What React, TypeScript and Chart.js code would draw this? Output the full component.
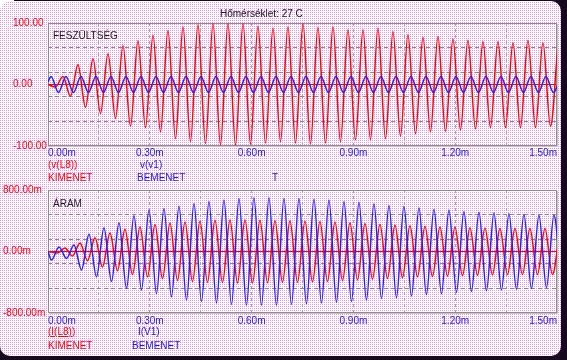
import React, { useEffect, useRef } from "react";
import { Chart, registerables } from "chart.js";

Chart.register(...registerables);

const FONT = '"Liberation Sans", Arial, sans-serif';
const RED = "#ff0000";
const BLUE = "#2020ff";
const RED_TEXT = "#ff0000";
const BLUE_TEXT = "#1818e0";

// x axis (ms)
const X_GRID = [0, 0.15, 0.3, 0.45, 0.6, 0.75, 0.9, 1.05, 1.2, 1.35, 1.5];
const X_LABELS = [0, 0.3, 0.6, 0.9, 1.2, 1.5];

// y axes
const V_GRID = [-100, -60, -20, 0, 20, 60, 100];
const V_LABELS = [-100, 0, 100];
const I_GRID = [-800, -480, -160, 0, 160, 480, 800];
const I_LABELS = [-800, 0, 800];

// half period of the waveforms (ms)
const HALF_PERIOD = 0.0221;

// v(L8) – KIMENET (top, red): value at t=0, time of first extremum, successive extrema
const V_L8_START = 0;
const V_L8_FIRST_T = 0.0221;
const V_L8 = [
  -4, 13, -19, 32, -37, 42, -47, 50, -55, 63, -68, 71, -70, 80, -77, 88, -88, 94,
  -93, 97, -96, 99, -98, 99, -98, 99, -97, 95, -95, 92, -93, 94, -95, 99, -97, 93,
  -95, 94, -93, 89, -90, 89, -90, 92, -88, 86, -84, 81, -80, 77, -77, 78, -76, 74,
  -74, 72, -72, 70, -70, 70, -70, 68, -70, 72, -70, 68, -68, 66,
];

// v(v1) – BEMENET (top, blue)
const V_V1_START = 4;
const V_V1_FIRST_T = 0.0088;
const V_V1 = [
  13, -13, 13, -13, 13, -13, 13, -13, 13, -13, 13, -13, 13, -13, 13, -13, 13, -13,
  13, -13, 13, -13, 13, -13, 13, -13, 13, -13, 13, -13, 13, -13, 13, -13, 13, -13,
  13, -13, 13, -13, 13, -13, 13, -13, 13, -13, 13, -13, 13, -13, 13, -13, 13, -13,
  13, -13, 13, -13, 13, -13, 13, -13, 13, -13, 13, -13, 13, -13, 13,
];

// I(L8) – KIMENET (bottom, red), mA
const I_L8_START = 0;
const I_L8_FIRST_T = 0.028;
const I_L8 = [
  -20, 45, -60, 110, -120, 180, -200, 240, -250, 290, -300, 320, -330, 350, -355, 370,
  -375, 385, -390, 395, -400, 405, -405, 410, -410, 410, -410, 405, -405, 400, -400, 400,
  -400, 395, -395, 390, -390, 385, -380, 375, -370, 365, -360, 355, -350, 345, -340, 335,
  -330, 330, -325, 320, -320, 315, -315, 310, -310, 305, -305, 300, -300, 300, -300, 300,
  -300, 300, -300, 300,
];

// I(V1) – BEMENET (bottom, blue), mA
const I_V1_START = 0;
const I_V1_FIRST_T = 0.0103;
const I_V1 = [
  -110, 60, -90, 85, -240, 225, -330, 310, -390, 375, -480, 465, -500, 540, -545, 560,
  -590, 590, -630, 625, -650, 650, -670, 670, -690, 690, -700, 700, -700, 700, -700, 690,
  -690, 690, -680, 680, -670, 670, -660, 650, -650, 640, -630, 620, -610, 600, -600, 590,
  -580, 570, -560, 550, -550, 540, -530, 520, -520, 510, -510, 500, -500, 490, -490, 480,
  -480, 470, -470, 470, -470,
];

function buildSeries(start: number, firstT: number, values: number[]) {
  const pts = [{ x: 0, y: start }];
  values.forEach((v, i) => pts.push({ x: firstT + i * HALF_PERIOD, y: v }));
  return pts;
}

const near = (a: number, b: number) => Math.abs(a - b) < 1e-6;

const framePlugin = {
  id: "frame",
  beforeDatasetsDraw(chart: any) {
    const { left, top, right, bottom } = chart.chartArea;
    const ctx = chart.ctx;
    ctx.save();
    ctx.lineWidth = 1;
    ctx.strokeStyle = "#8c8c8c";
    ctx.strokeRect(Math.round(left) + 0.5, Math.round(top) + 0.5, Math.round(right - left) - 1, Math.round(bottom - top) - 1);
    ctx.strokeStyle = "#c8c8c8";
    ctx.beginPath();
    ctx.moveTo(Math.round(right) + 0.5, Math.round(top) + 1);
    ctx.lineTo(Math.round(right) + 0.5, Math.round(bottom) + 0.5);
    ctx.lineTo(Math.round(left) + 1, Math.round(bottom) + 0.5);
    ctx.stroke();
    ctx.restore();
  },
};

type PanelCfg = {
  min: number;
  max: number;
  grid: number[];
  labels: number[];
  fmt: (v: number) => string;
  padLeft: number;
  padTop: number;
  yWidth: number;
  xHeight: number;
  xPad: number;
};

function makeChart(canvas: HTMLCanvasElement, cfg: PanelCfg, datasets: any[]) {
  return new Chart(canvas, {
    type: "line",
    data: { datasets },
    plugins: [framePlugin],
    options: {
      animation: false,
      responsive: false,
      events: [],
      layout: { padding: { left: cfg.padLeft, right: 10, top: cfg.padTop, bottom: 0 } },
      plugins: { legend: { display: false }, tooltip: { enabled: false }, title: { display: false } },
      elements: { point: { radius: 0 }, line: { borderWidth: 1.5, cubicInterpolationMode: "monotone" } },
      scales: {
        x: {
          type: "linear",
          min: 0,
          max: 1.5,
          afterBuildTicks: (s: any) => {
            s.ticks = X_GRID.map((v) => ({ value: v }));
          },
          afterFit: (s: any) => {
            s.height = cfg.xHeight;
          },
          ticks: {
            autoSkip: false,
            maxRotation: 0,
            minRotation: 0,
            align: "inner",
            padding: cfg.xPad,
            color: BLUE_TEXT,
            font: { family: FONT, size: 10 },
            callback: (v: any) => (X_LABELS.some((l) => near(l, Number(v))) ? Number(v).toFixed(2) + "m" : ""),
          },
          grid: {
            drawTicks: false,
            lineWidth: 1,
            color: (ctx: any) => {
              const v = ctx.tick ? ctx.tick.value : 0;
              return near(v, 0) || near(v, 1.5) ? "rgba(0,0,0,0)" : "#9ea89e";
            },
          },
          border: { display: false, dash: [3, 3] },
        },
        y: {
          type: "linear",
          min: cfg.min,
          max: cfg.max,
          afterBuildTicks: (s: any) => {
            s.ticks = cfg.grid.map((v) => ({ value: v }));
          },
          afterFit: (s: any) => {
            s.width = cfg.yWidth;
          },
          ticks: {
            autoSkip: false,
            crossAlign: "far",
            padding: 0,
            color: RED_TEXT,
            font: { family: FONT, size: 10 },
            callback: (v: any) => (cfg.labels.some((l) => near(l, Number(v))) ? cfg.fmt(Number(v)) : ""),
          },
          grid: {
            drawTicks: false,
            lineWidth: 1,
            color: (ctx: any) => {
              const v = ctx.tick ? ctx.tick.value : 0;
              if (near(v, 0)) return RED;
              if (near(v, cfg.min) || near(v, cfg.max)) return "rgba(0,0,0,0)";
              return "#888888";
            },
          },
          border: {
            display: false,
            dash: (ctx: any) => (ctx.tick && near(ctx.tick.value, 0) ? [] : [4, 3]),
          },
        },
      },
    } as any,
  });
}

const text = (
  s: string,
  left: number,
  top: number,
  color: string,
  extra: React.CSSProperties = {}
) => (
  <div
    key={s + left + top}
    style={{
      position: "absolute",
      left,
      top,
      color,
      font: `10px ${FONT}`,
      lineHeight: "12px",
      whiteSpace: "nowrap",
      ...extra,
    }}
  >
    {s}
  </div>
);

export default function App() {
  const bgRef = useRef<HTMLCanvasElement | null>(null);
  const topRef = useRef<HTMLCanvasElement | null>(null);
  const botRef = useRef<HTMLCanvasElement | null>(null);

  useEffect(() => {
    const bg = bgRef.current!;
    const ctx = bg.getContext("2d")!;
    ctx.fillStyle = "#150a1e";
    ctx.fillRect(0, 0, 567, 360);
    ctx.fillStyle = "#ffffff";
    ctx.fillRect(0, 0, 14, 14);
    const p = document.createElement("canvas");
    p.width = 2;
    p.height = 2;
    const pc = p.getContext("2d")!;
    pc.fillStyle = "#ffffff";
    pc.fillRect(0, 0, 2, 2);
    pc.fillStyle = "#f190f1";
    pc.fillRect(0, 0, 1, 1);
    const pat = ctx.createPattern(p, "repeat")!;
    ctx.beginPath();
    (ctx as any).roundRect(0, 1, 561, 355, 10);
    ctx.fillStyle = pat;
    ctx.fill();

    const top = makeChart(
      topRef.current!,
      {
        min: -100,
        max: 100,
        grid: V_GRID,
        labels: V_LABELS,
        fmt: (v) => v.toFixed(2),
        padLeft: 13,
        padTop: 23,
        yWidth: 35,
        xHeight: 14,
        xPad: 1,
      },
      [
        { data: buildSeries(V_V1_START, V_V1_FIRST_T, V_V1), borderColor: BLUE },
        { data: buildSeries(V_L8_START, V_L8_FIRST_T, V_L8), borderColor: RED },
      ]
    );
    const bot = makeChart(
      botRef.current!,
      {
        min: -800,
        max: 800,
        grid: I_GRID,
        labels: I_LABELS,
        fmt: (v) => v.toFixed(2) + "m",
        padLeft: 3,
        padTop: 20,
        yWidth: 45,
        xHeight: 17,
        xPad: 2,
      },
      [
        { data: buildSeries(I_V1_START, I_V1_FIRST_T, I_V1), borderColor: BLUE },
        { data: buildSeries(I_L8_START, I_L8_FIRST_T, I_L8), borderColor: RED },
      ]
    );
    return () => {
      top.destroy();
      bot.destroy();
    };
  }, []);

  return (
    <div style={{ position: "fixed", left: 0, top: 0, width: 567, height: 360, overflow: "hidden" }}>
      <canvas ref={bgRef} width={567} height={360} style={{ position: "absolute", left: 0, top: 0 }} />
      <canvas ref={topRef} width={567} height={160} style={{ position: "absolute", left: 0, top: 0, width: 567, height: 160 }} />
      <canvas ref={botRef} width={567} height={160} style={{ position: "absolute", left: 0, top: 170, width: 567, height: 160 }} />
      {text("Hőmérséklet: 27 C", 220, 8, "#141414")}
      {text("FESZÜLTSÉG", 53, 30, "#1c1c1c")}
      {text("(v(L8))", 48, 158.5, RED_TEXT)}
      {text("v(v1)", 140, 158.5, BLUE_TEXT)}
      {text("KIMENET", 48, 171.5, RED_TEXT)}
      {text("BEMENET", 137, 171.5, BLUE_TEXT)}
      {text("T", 272, 171.5, BLUE_TEXT)}
      {text("ÁRAM", 53, 198, "#1c1c1c")}
      {text("(I(L8))", 48, 325.5, RED_TEXT, { textDecoration: "underline" })}
      {text("I(V1)", 138, 325.5, BLUE_TEXT)}
      {text("KIMENET", 48, 340, RED_TEXT)}
      {text("BEMENET", 132, 340, BLUE_TEXT)}
    </div>
  );
}
